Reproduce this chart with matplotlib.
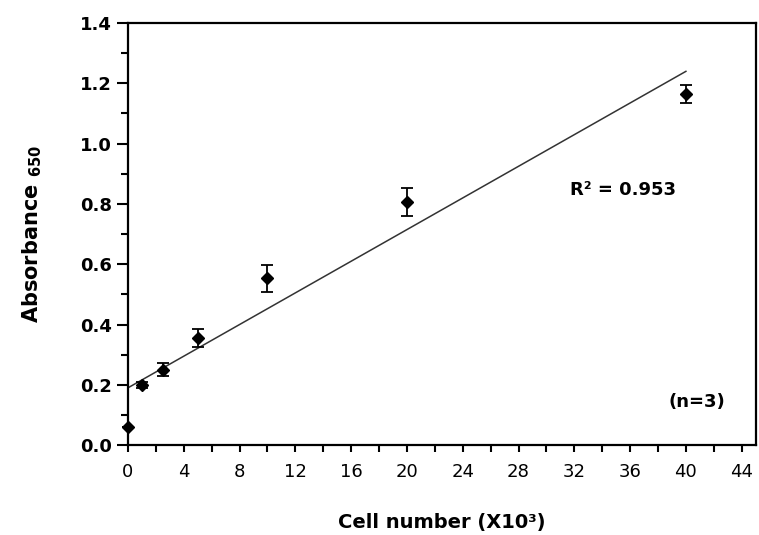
import matplotlib.pyplot as plt
import numpy as np
from matplotlib.ticker import MultipleLocator

cells = np.array([0, 1, 2.5, 5, 10, 20, 40])
absorbance = np.array([0.06, 0.20, 0.25, 0.355, 0.553, 0.807, 1.165])
err = np.array([0.0, 0.01, 0.021, 0.031, 0.044, 0.046, 0.03])

plt.rcParams['font.family'] = ['DejaVu Sans']

fig = plt.figure(figsize=(7.59, 5.35), dpi=100)
ax = fig.add_axes([0.1686, 0.168, 0.827, 0.789])

# linear fit through the means
k, b = np.polyfit(cells, absorbance, 1)
xf = np.array([0, 40])
ax.plot(xf, k * xf + b, color='#333333', lw=1.1)

ax.errorbar(cells, absorbance, yerr=err, fmt='D', color='black', ms=6,
            ecolor='black', elinewidth=1.3, capsize=4, capthick=1.3, clip_on=False, zorder=3)

ax.set_xlim(0, 45)
ax.set_ylim(0, 1.4)
ax.xaxis.set_major_locator(MultipleLocator(4))
ax.xaxis.set_minor_locator(MultipleLocator(2))
ax.yaxis.set_major_locator(MultipleLocator(0.2))
ax.yaxis.set_minor_locator(MultipleLocator(0.1))
ax.yaxis.set_major_formatter(plt.FormatStrFormatter('%.1f'))

for s in ax.spines.values():
    s.set_linewidth(1.6)
ax.tick_params(axis='both', which='both', direction='out', width=1.5)
ax.tick_params(axis='y', which='major', length=8, labelsize=13)
ax.tick_params(axis='y', which='minor', length=5)
ax.tick_params(axis='x', which='both', length=5, labelsize=13, pad=8)
for t in ax.get_yticklabels():
    t.set_fontweight('bold')

ax.set_xlabel('Cell number (X10³)', fontsize=14, fontweight='bold', labelpad=23)
ax.set_ylabel(r'Absorbance $\mathbf{_{650}}$', fontsize=15, fontweight='bold', labelpad=26)

ax.text(31.7, 0.846, 'R² = 0.953', fontsize=13, fontweight='bold', va='center', ha='left')
ax.text(42.8, 0.143, '(n=3)', fontsize=13, fontweight='bold', va='center', ha='right')

fig.savefig('out.png', dpi=100)
